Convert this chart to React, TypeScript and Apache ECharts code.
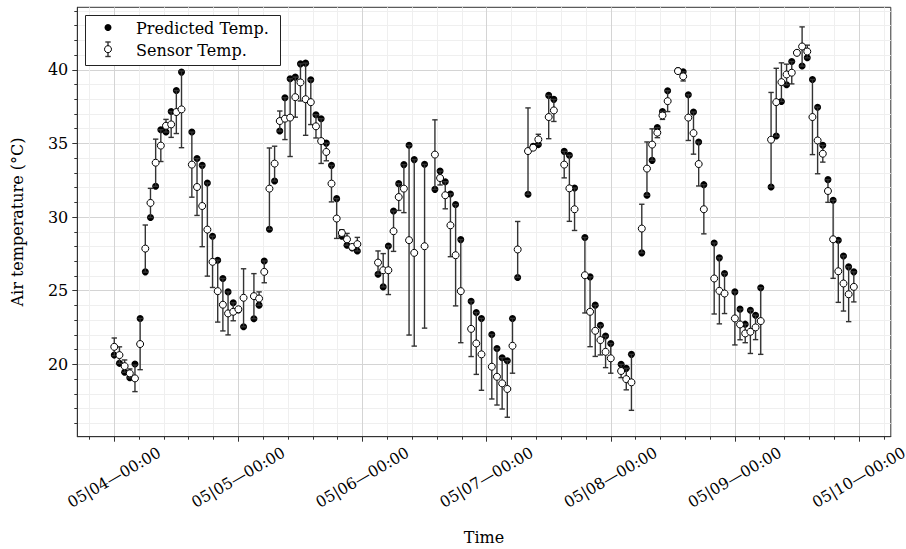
import React, { useEffect, useRef } from "react";
import * as echarts from "echarts";

// hours since 05/04 00:00
const hours = [
  0, 1, 2, 3, 4, 5, 6, 7, 8, 9, 10, 11, 12, 13,
  15, 16, 17, 18, 19, 20, 21, 22, 23, 24, 25,
  27, 28, 29, 30, 31, 32, 33, 34, 35, 36, 37, 38, 39, 40, 41, 42, 43, 44, 45, 46, 47,
  51, 52, 53, 54, 55, 56, 57, 58,
  60,
  62, 63, 64, 65, 66, 67,
  69, 70, 71,
  73, 74, 75, 76, 77, 78,
  80, 81, 82,
  84, 85,
  87, 88, 89,
  91, 92, 93, 94, 95, 96,
  98, 99, 100,
  102, 103, 104, 105, 106, 107,
  109, 110, 111, 112, 113, 114,
  116, 117, 118,
  120, 121, 122, 123, 124, 125,
  127, 128, 129, 130, 131, 132, 133, 134, 135, 136, 137, 138, 139, 140, 141, 142, 143,
];

const predicted = [
  20.63, 20.07, 19.46, 19.09, 20.02, 23.12, 26.28, 29.97, 32.09, 35.93, 35.77, 37.17, 38.59, 39.84,
  35.77, 33.97, 33.51, 32.31, 28.7, 27.07, 25.83, 24.92, 24.18, 23.7, 22.55,
  23.1, 24.02, 27.02, 29.17, 32.45, 35.84, 38.1, 39.39, 39.5, 40.4, 40.45, 39.32, 36.95, 36.68, 35.02, 33.51, 31.25, 28.7, 28.09, 27.9, 27.7,
  26.12, 25.26, 28.04, 30.41, 32.27, 33.56, 34.87, 33.9,
  33.58,
  31.88, 33.12, 32.4, 31.57, 30.85, 28.47,
  24.29, 23.52, 23.12,
  22.03, 21.08, 20.45, 20.25, 23.12, 25.9,
  31.55, 34.8, 34.92,
  38.26, 37.99,
  34.46, 34.19, 31.97,
  28.61, 25.94, 24.02, 22.66, 21.92, 21.42,
  20.0, 19.73, 20.68,
  27.57, 31.48, 33.85, 36.07, 37.17, 38.58,
  39.95, 39.86, 38.3, 37.13, 35.09, 32.2,
  28.24, 27.23, 26.17,
  24.92, 23.75, 22.73, 23.68, 23.34, 25.2,
  32.04, 35.5, 37.85, 38.98, 40.56, 41.15, 40.25, 40.81, 39.34, 37.46, 34.87, 32.54, 31.14, 28.43, 27.36, 26.62, 26.28,
];

const sensor = [
  21.19, 20.63, 19.88, 19.39, 19.05, 21.38, 27.86, 30.96, 33.69, 34.85, 36.2, 36.29, 37.13, 37.31,
  33.56, 32.04, 30.75, 29.15, 26.96, 24.97, 24.05, 23.46, 23.57, 23.74, 24.52,
  24.63, 24.47, 26.28, 31.93, 33.63, 36.52, 36.68, 36.75, 38.14, 39.14, 38.0, 37.8, 36.16, 35.16, 34.42, 32.27, 29.9, 28.92, 28.49, 27.97, 28.16,
  26.91, 26.39, 26.39, 29.04, 31.36, 31.93, 28.43, 27.57,
  28.02,
  34.24, 32.65, 31.48, 29.44, 27.41, 24.97,
  22.41, 21.42, 20.68,
  19.84, 19.16, 18.71, 18.33, 21.26, 27.8,
  34.48, 34.71, 35.27,
  36.79, 37.24,
  33.56, 31.95, 30.53,
  26.05, 23.57, 22.28, 21.65, 20.85, 20.41,
  19.55, 19.0, 18.78,
  29.22, 33.29, 34.92, 35.73, 36.9, 37.87,
  39.91, 39.55, 36.75, 35.7, 33.6, 30.53,
  25.83, 24.99, 24.81,
  23.12, 22.71, 22.1, 22.21, 22.51, 22.94,
  35.25, 37.8, 39.16, 39.68, 39.8, 41.15, 41.58, 41.24, 36.79, 35.2, 34.3, 31.77, 28.49, 26.32, 25.49, 24.76, 25.26,
];

const sensorErr = [
  0.6, 0.56, 0.42, 0.3, 0.9, 1.74, 1.6, 0.99, 1.6, 1.08, 0.43, 0.88, 1.46, 2.6,
  2.21, 1.93, 2.76, 3.16, 1.74, 2.1, 1.78, 1.46, 0.61, 0.04, 1.97,
  1.53, 0.45, 0.74, 2.76, 1.18, 0.68, 1.42, 2.64, 1.36, 1.26, 2.45, 1.52, 0.79, 1.52, 0.6, 1.24, 1.35, 0.22, 0.4, 0.07, 0.46,
  0.79, 1.13, 1.65, 1.37, 0.91, 1.63, 6.44, 6.33,
  5.56,
  2.36, 0.47, 0.92, 2.13, 3.44, 3.5,
  1.88, 2.1, 2.44,
  2.19, 1.92, 1.74, 1.92, 1.86, 1.9,
  2.93, 0.09, 0.35,
  1.47, 0.75,
  0.9, 2.24, 1.44,
  2.56, 2.37, 1.74, 1.01, 1.07, 1.01,
  0.45, 0.73, 1.9,
  1.65, 1.81, 1.07, 0.34, 0.27, 0.71,
  0.04, 0.31, 1.55, 1.43, 1.49, 1.67,
  2.41, 2.24, 1.36,
  1.8, 1.04, 0.63, 1.47, 0.83, 2.26,
  3.21, 2.3, 1.31, 0.7, 0.76, 0.05, 1.33, 0.43, 2.55, 2.26, 0.57, 0.77, 2.65, 2.11, 1.87, 1.86, 1.02,
];

const dayTicks = [0, 24, 48, 72, 96, 120, 144];
const dayTickLabels = [
  "05|04—00:00",
  "05|05—00:00",
  "05|06—00:00",
  "05|07—00:00",
  "05|08—00:00",
  "05|09—00:00",
  "05|10—00:00",
];
const yTicks = [20, 25, 30, 35, 40];

const FONT = "DejaVu Serif";
const X_MIN = -7.15;
const X_MAX = 150.15;
const Y_MIN = 15.09;
const Y_MAX = 44.24;

function minorX(): number[] {
  const out: number[] = [];
  for (let d = -24; d <= 144; d += 24) {
    for (let k = 1; k <= 4; k++) {
      const v = d + k * 4.8;
      if (v > X_MIN && v < X_MAX) out.push(v);
    }
  }
  return out;
}
function minorY(): number[] {
  const out: number[] = [];
  for (let v = 16; v <= 44; v++) if (v % 5 !== 0) out.push(v);
  return out;
}

export default function App() {
  const ref = useRef<HTMLDivElement>(null);
  useEffect(() => {
    if (!ref.current) return;
    const chart = echarts.init(ref.current, undefined, { renderer: "svg" });
    const errData = hours.map((h, i) => [h, sensor[i], sensorErr[i]]);
    const ERR_COLOR = "#333333";
    const option: any = {
      animation: false,
      backgroundColor: "#fff",
      grid: {
        left: 77.3,
        right: 15.2,
        top: 7.3,
        bottom: 112.3,
        containLabel: false,
        outerBoundsMode: "none",
        show: true,
        borderColor: "#333",
        borderWidth: 1,
        backgroundColor: "transparent",
      },
      xAxis: [
        {
          type: "value",
          min: X_MIN,
          max: X_MAX,
          position: "bottom",
          axisLine: { show: true, onZero: false, lineStyle: { color: "#333", width: 1 } },
          axisTick: { show: true, customValues: dayTicks, length: 5, lineStyle: { color: "#333", width: 1 } },
          axisLabel: {
            show: true,
            customValues: dayTicks,
            formatter: (v: number) => {
              const i = dayTicks.findIndex((d) => Math.abs(d - v) < 1e-6);
              return i >= 0 ? dayTickLabels[i] : "";
            },
            rotate: 30,
            align: "center",
            verticalAlign: "middle",
            margin: 41,
            fontFamily: FONT,
            fontSize: 15.5,
            color: "#000",
            hideOverlap: false,
          },
          splitLine: { show: true, lineStyle: { color: "#d4d4d4", width: 1 } },
          name: "Time",
          nameLocation: "middle",
          nameGap: 93,
          nameTextStyle: { fontFamily: FONT, fontSize: 16, color: "#000" },
        },
        {
          type: "value",
          min: X_MIN,
          max: X_MAX,
          position: "bottom",
          axisLine: { show: false, onZero: false },
          axisTick: { show: true, customValues: minorX(), length: 3, lineStyle: { color: "#333", width: 1 } },
          axisLabel: { show: false },
          splitLine: { show: true, lineStyle: { color: "#efefef", width: 1 } },
        },
      ],
      yAxis: [
        {
          type: "value",
          min: Y_MIN,
          max: Y_MAX,
          position: "left",
          axisLine: { show: true, onZero: false, lineStyle: { color: "#333", width: 1 } },
          axisTick: { show: true, customValues: yTicks, length: 5, lineStyle: { color: "#333", width: 1 } },
          axisLabel: {
            show: true,
            customValues: yTicks,
            margin: 9,
            fontFamily: FONT,
            fontSize: 16,
            color: "#000",
          },
          splitLine: { show: true, lineStyle: { color: "#d4d4d4", width: 1 } },
          name: "Air temperature (°C)",
          nameLocation: "middle",
          nameGap: 52,
          nameRotate: 90,
          nameTextStyle: { fontFamily: FONT, fontSize: 16, color: "#000" },
        },
        {
          type: "value",
          min: Y_MIN,
          max: Y_MAX,
          position: "left",
          axisLine: { show: false, onZero: false },
          axisTick: { show: true, customValues: minorY(), length: 3, lineStyle: { color: "#333", width: 1 } },
          axisLabel: { show: false },
          splitLine: { show: true, lineStyle: { color: "#efefef", width: 1 } },
        },
      ],
      series: [
        {
          name: "Predicted Temp.",
          type: "scatter",
          xAxisIndex: 0,
          yAxisIndex: 0,
          data: hours.map((h, i) => [h, predicted[i]]),
          symbol: "circle",
          symbolSize: 7,
          itemStyle: { color: "#000", opacity: 1 },
          z: 2,
        },
        {
          name: "Sensor Temp. error",
          type: "custom",
          xAxisIndex: 0,
          yAxisIndex: 0,
          data: errData,
          encode: { x: 0, y: 1 },
          z: 3,
          renderItem: (params: any, api: any) => {
            const x = api.value(0);
            const y = api.value(1);
            const e = api.value(2);
            const top = api.coord([x, y + e]);
            const bot = api.coord([x, y - e]);
            const hw = 2.7;
            const st = { stroke: ERR_COLOR, lineWidth: 1.4 };
            return {
              type: "group",
              children: [
                { type: "line", shape: { x1: top[0], y1: top[1], x2: bot[0], y2: bot[1] }, style: st },
                { type: "line", shape: { x1: top[0] - hw, y1: top[1], x2: top[0] + hw, y2: top[1] }, style: st },
                { type: "line", shape: { x1: bot[0] - hw, y1: bot[1], x2: bot[0] + hw, y2: bot[1] }, style: st },
              ],
            };
          },
        },
        {
          name: "Sensor Temp.",
          type: "scatter",
          xAxisIndex: 0,
          yAxisIndex: 0,
          data: hours.map((h, i) => [h, sensor[i]]),
          symbol: "circle",
          symbolSize: 7,
          itemStyle: { color: "#fff", borderColor: "#000", borderWidth: 1, opacity: 1 },
          z: 4,
        },
      ],
      graphic: [
        {
          type: "rect",
          z: 100,
          shape: { x: 85.5, y: 15.5, width: 195, height: 50 },
          style: { fill: "#fff", stroke: "#222", lineWidth: 1 },
        },
        {
          type: "circle",
          z: 101,
          shape: { cx: 108, cy: 27.5, r: 3.5 },
          style: { fill: "#000" },
        },
        {
          type: "line",
          z: 101,
          shape: { x1: 108, y1: 42, x2: 108, y2: 56.5 },
          style: { stroke: ERR_COLOR, lineWidth: 1.4 },
        },
        {
          type: "line",
          z: 101,
          shape: { x1: 105.3, y1: 42, x2: 110.7, y2: 42 },
          style: { stroke: ERR_COLOR, lineWidth: 1.4 },
        },
        {
          type: "line",
          z: 101,
          shape: { x1: 105.3, y1: 56.5, x2: 110.7, y2: 56.5 },
          style: { stroke: ERR_COLOR, lineWidth: 1.4 },
        },
        {
          type: "circle",
          z: 102,
          shape: { cx: 108, cy: 49.2, r: 3.5 },
          style: { fill: "#fff", stroke: "#000", lineWidth: 1 },
        },
        {
          type: "text",
          z: 102,
          x: 136,
          y: 28,
          style: {
            text: "Predicted Temp.",
            fontFamily: FONT,
            fontSize: 16,
            fill: "#000",
            verticalAlign: "middle",
            textVerticalAlign: "middle",
          },
        },
        {
          type: "text",
          z: 102,
          x: 136,
          y: 50,
          style: {
            text: "Sensor Temp.",
            fontFamily: FONT,
            fontSize: 16,
            fill: "#000",
            verticalAlign: "middle",
            textVerticalAlign: "middle",
          },
        },
      ],
    };
    chart.setOption(option);
    return () => chart.dispose();
  }, []);
  return (
    <div
      ref={ref}
      style={{ position: "fixed", left: 0, top: 0, width: 906, height: 549, background: "#fff" }}
    />
  );
}
